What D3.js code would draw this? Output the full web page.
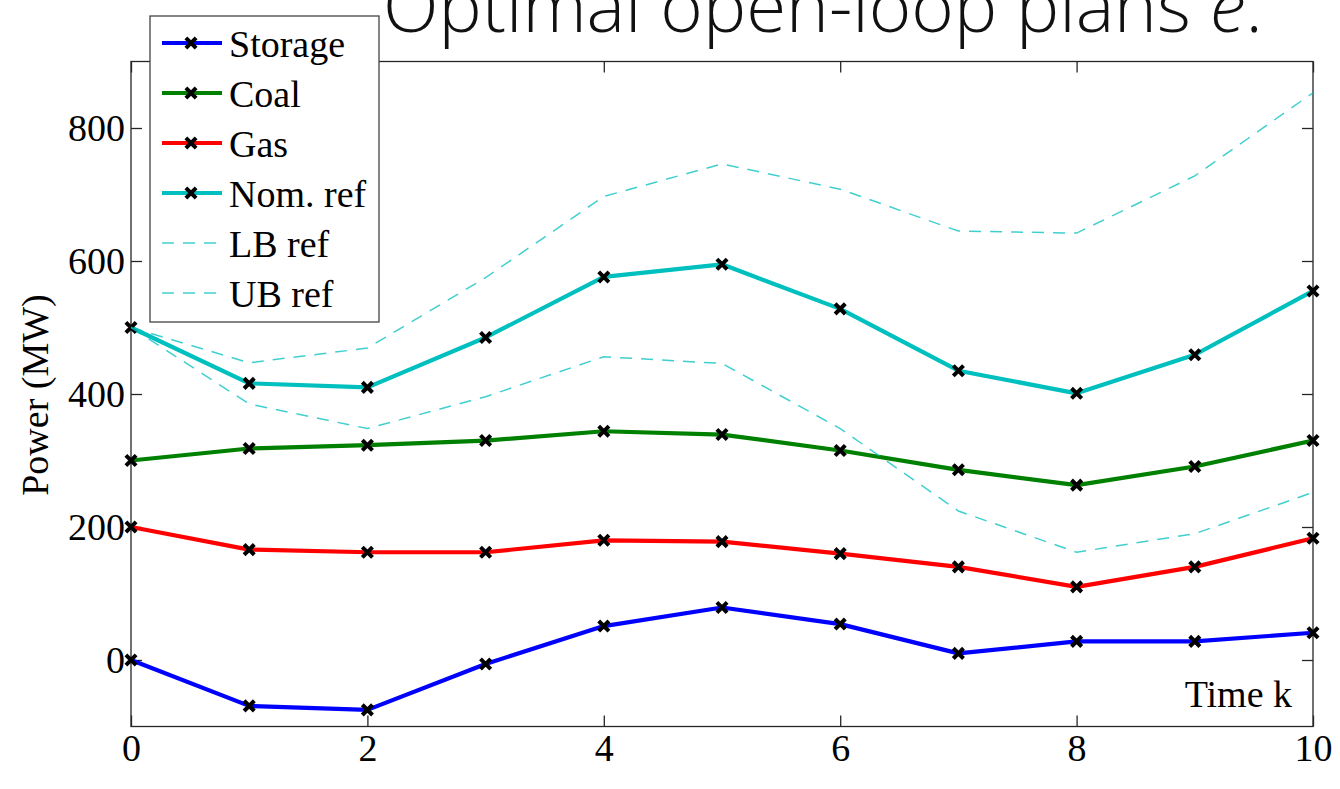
<!DOCTYPE html>
<html>
<head>
<meta charset="utf-8">
<script src="https://cdn.jsdelivr.net/npm/d3@7"></script>
<style>
  html, body { margin: 0; padding: 0; background: #fff; }
  svg { display: block; }
</style>
</head>
<body>
<svg id="chart" width="1340" height="789"></svg>
<script>
// Time steps of the planning horizon
const timeSteps = [0, 1, 2, 3, 4, 5, 6, 7, 8, 9, 10];

// Planned power per unit (MW)
const storage = [0, -69, -75, -6, 51, 79, 54, 10, 28, 28, 41];
const coal    = [300, 318, 323, 330, 344, 339, 315, 286, 263, 291, 330];
const gas     = [200, 166, 162, 162, 180, 178, 160, 140, 110, 140, 183];

// Reference trajectory and its bounds (MW)
const nomRef = [500, 416, 410, 485, 576, 595, 528, 435, 401, 459, 555];
const lbRef  = [500, 385, 348, 396, 456, 446, 348, 224, 162, 190, 252];
const ubRef  = [500, 447, 469, 575, 697, 746, 708, 645, 642, 728, 853];

// Axis ticks
const xTicks = [0, 2, 4, 6, 8, 10];
const yTicks = [0, 200, 400, 600, 800];

const seriesNames = ["Storage", "Coal", "Gas", "Nom. ref", "LB ref", "UB ref"];
const seriesValues = [storage, coal, gas, nomRef, lbRef, ubRef];
const seriesColors = ["#0000ff", "#008000", "#ff0000", "#00bfbf", "#00bfbf", "#00bfbf"];
const seriesDashed = [false, false, false, false, true, true];

const svg = d3.select("#chart");
const serif = "'Liberation Serif', 'Times New Roman', serif";

const plot = { left: 131, right: 1313, top: 61.5, bottom: 726.5 };

const x = d3.scaleLinear().domain([0, 10]).range([plot.left, plot.right]);
const y = d3.scaleLinear().domain([-100, 900]).range([plot.bottom, plot.top]);

// Title (runs off the top edge of the page)
const title = svg.append("text")
  .attr("x", 383)
  .attr("y", 32)
  .attr("font-family", "'Open Sans', sans-serif")
  .attr("font-weight", 300)
  .attr("font-size", 56)
  .attr("fill", "#111");
title.append("tspan").text("Optimal open-loop plans ");
title.append("tspan").attr("font-style", "italic").text("e");
title.append("tspan").text(".");
// fit the title to its span
const tw = title.node().getComputedTextLength();
const targetW = 880;
title.attr("font-size", 56 * targetW / tw);

// Axes frame
svg.append("rect")
  .attr("x", plot.left).attr("y", plot.top)
  .attr("width", plot.right - plot.left)
  .attr("height", plot.bottom - plot.top)
  .attr("fill", "none")
  .attr("stroke", "#262626")
  .attr("stroke-width", 1.3);

const tickLen = 11;
const axisStyle = g => {
  g.select(".domain").remove();
  g.selectAll(".tick line").attr("stroke", "#262626").attr("stroke-width", 1.3);
  g.selectAll(".tick text")
    .attr("font-family", serif)
    .attr("font-size", 38)
    .attr("fill", "#000");
};

// bottom axis with inward ticks and labels below
svg.append("g")
  .attr("transform", `translate(0,${plot.bottom})`)
  .call(d3.axisBottom(x).tickValues(xTicks).tickFormat(d3.format("d"))
    .tickSizeInner(-tickLen).tickSizeOuter(0).tickPadding(8))
  .call(axisStyle);

// top axis ticks only
svg.append("g")
  .attr("transform", `translate(0,${plot.top})`)
  .call(d3.axisTop(x).tickValues(xTicks).tickFormat("")
    .tickSizeInner(-tickLen).tickSizeOuter(0))
  .call(axisStyle);

// left axis
svg.append("g")
  .attr("transform", `translate(${plot.left},0)`)
  .call(d3.axisLeft(y).tickValues(yTicks).tickFormat(d3.format("d"))
    .tickSizeInner(-tickLen).tickSizeOuter(0).tickPadding(6))
  .call(axisStyle);

// right axis ticks only
svg.append("g")
  .attr("transform", `translate(${plot.right},0)`)
  .call(d3.axisRight(y).tickValues(yTicks).tickFormat("")
    .tickSizeInner(-tickLen).tickSizeOuter(0))
  .call(axisStyle);

// Axis labels
svg.append("text")
  .attr("transform", `translate(48,${(plot.top + plot.bottom) / 2 + 1}) rotate(-90)`)
  .attr("text-anchor", "middle")
  .attr("font-family", serif)
  .attr("font-size", 38)
  .attr("fill", "#000")
  .text("Power (MW)");

svg.append("text")
  .attr("x", 1292)
  .attr("y", 707)
  .attr("text-anchor", "end")
  .attr("font-family", serif)
  .attr("font-size", 38)
  .attr("fill", "#000")
  .text("Time k");

// Series
const line = d3.line()
  .x((d, i) => x(timeSteps[i]))
  .y(d => y(d));

const marker = d3.symbol(d3.symbolX).size(70);

seriesValues.forEach((vals, si) => {
  const g = svg.append("g").attr("class", "series");
  if (seriesDashed[si]) {
    g.append("path")
      .datum(vals)
      .attr("d", line)
      .attr("fill", "none")
      .attr("stroke", seriesColors[si])
      .attr("stroke-opacity", 0.75)
      .attr("stroke-width", 1.5)
      .attr("stroke-dasharray", "12,9");
  } else {
    g.append("path")
      .datum(vals)
      .attr("d", line)
      .attr("fill", "none")
      .attr("stroke", seriesColors[si])
      .attr("stroke-width", 4.2)
      .attr("stroke-linejoin", "round");
    g.selectAll("path.mk")
      .data(vals)
      .join("path")
      .attr("class", "mk")
      .attr("transform", (d, i) => `translate(${x(timeSteps[i])},${y(d)})`)
      .attr("d", marker)
      .attr("fill", "none")
      .attr("stroke", "#000")
      .attr("stroke-width", 4);
  }
});

// Legend
const legend = svg.append("g").attr("transform", "translate(150,16)");
legend.append("rect")
  .attr("x", 0).attr("y", 0)
  .attr("width", 229).attr("height", 306)
  .attr("fill", "#fff")
  .attr("stroke", "#444")
  .attr("stroke-width", 1.3);

seriesNames.forEach((name, si) => {
  const row = legend.append("g").attr("transform", `translate(0,${41 + si * 50})`);
  const ln = row.append("line")
    .attr("x1", 12).attr("x2", 72)
    .attr("y1", -14).attr("y2", -14)
    .attr("stroke", seriesColors[si]);
  if (seriesDashed[si]) {
    ln.attr("stroke-width", 1.5).attr("stroke-opacity", 0.75).attr("stroke-dasharray", "12,9");
  } else {
    ln.attr("stroke-width", 4.2);
    row.append("path")
      .attr("transform", "translate(41,-14)")
      .attr("d", marker)
      .attr("fill", "none")
      .attr("stroke", "#000")
      .attr("stroke-width", 4);
  }
  row.append("text")
    .attr("x", 79).attr("y", 0)
    .attr("font-family", serif)
    .attr("font-size", 38)
    .attr("fill", "#000")
    .text(name);
});
</script>
</body>
</html>
